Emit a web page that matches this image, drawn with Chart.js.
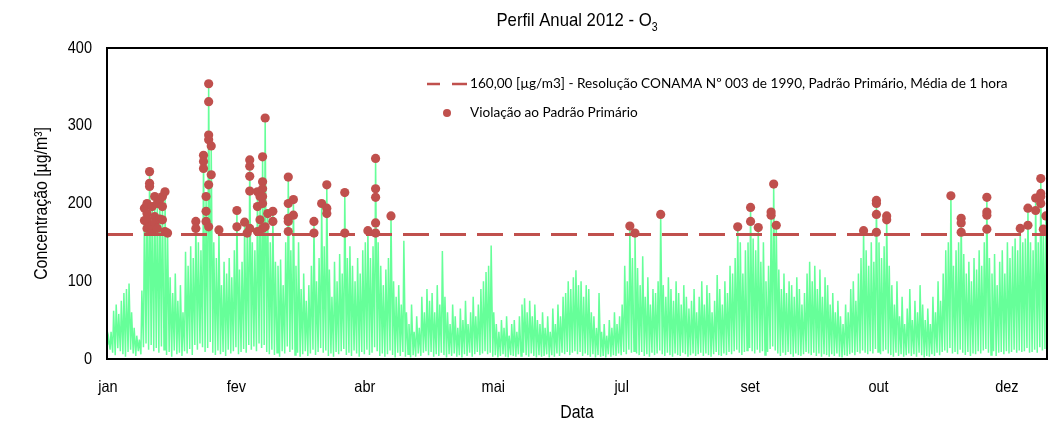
<!DOCTYPE html>
<html><head><meta charset="utf-8">
<script src="https://cdn.jsdelivr.net/npm/chart.js@4.4.0/dist/chart.umd.min.js"></script>
<style>html,body{margin:0;padding:0;background:#fff;}#wrap{width:1060px;height:426px;position:relative;}</style>
</head><body><div id="wrap"><canvas id="c" width="1060" height="426"></canvas></div>
<script>
// Daily maximum hourly O3 (µg/m³), day-of-year 0..365 (2012)
const dailyMax = [
 28,35,62,70,58,75,85,90,97,60,
 40,30,25,88,194,200,241,196,209,200,
 205,209,215,162,105,85,110,75,95,60,
 138,120,145,130,177,150,140,262,209,354,
 274,150,130,166,95,125,110,130,105,140,
 191,115,125,176,162,256,150,140,215,209,
 260,310,187,150,190,125,120,128,95,150,
 235,140,205,120,150,90,110,75,95,120,
 177,100,130,200,145,224,115,80,125,100,
 135,110,214,130,145,120,100,130,110,140,
 150,165,130,145,258,150,120,95,115,130,
 184,100,80,95,70,152,60,45,70,35,
 55,40,80,60,90,75,85,60,95,70,
 139,80,60,45,70,55,40,65,50,75,
 45,60,80,55,70,90,100,112,120,146,
 60,45,35,50,40,55,30,45,50,35,
 55,70,78,60,75,55,70,50,45,60,
 40,55,35,65,45,70,55,80,85,100,
 90,105,114,95,100,80,95,90,60,55,
 40,85,35,45,30,50,40,60,45,55,
 70,120,100,171,130,162,117,95,132,80,
 105,70,90,85,100,186,95,80,105,90,
 75,100,85,70,95,80,65,75,90,60,
 80,100,70,95,85,60,75,108,90,70,
 100,85,120,110,130,170,150,110,140,150,
 195,155,140,169,125,150,100,120,189,225,
 172,115,90,110,85,100,95,80,105,90,
 70,85,110,125,100,120,90,115,80,105,
 95,70,85,60,75,55,45,70,60,90,
 100,75,110,130,165,140,120,150,125,204,
 150,130,145,184,120,95,70,100,55,80,
 45,65,90,50,75,60,95,70,50,65,
 45,80,60,100,75,110,140,150,210,120,
 140,150,181,135,110,125,100,130,115,140,
 120,150,208,130,110,135,95,125,140,110,
 150,130,145,155,140,168,150,155,194,150,
 140,207,150,232,167,184
];
// Daily minimum hourly O3 (µg/m³)
const dailyMin = [
 18,12,8,5,14,10,6,3,9,12,
 7,4,10,6,15,20,12,18,10,14,
 8,16,12,5,9,3,11,6,8,4,
 10,7,13,5,18,12,20,15,9,14,
 22,8,5,11,6,9,4,12,7,10,
 15,6,9,13,8,18,12,16,10,20,
 14,18,9,6,12,5,8,3,10,7,
 16,9,12,5,8,3,6,10,4,7,
 12,5,9,14,8,11,4,7,3,9,
 6,10,13,5,8,4,11,7,3,9,
 6,12,5,8,15,10,4,7,3,6,
 11,5,2,8,4,9,3,6,2,5,
 3,7,4,8,10,5,9,3,6,4,
 8,5,2,6,4,7,3,5,2,6,
 4,8,3,6,9,5,7,10,6,8,
 3,5,2,4,6,3,2,5,4,3,
 6,4,8,5,3,7,4,2,5,3,
 4,6,2,5,3,7,4,8,6,9,
 5,8,10,6,9,4,7,5,3,6,
 2,5,3,4,2,6,3,5,4,7,
 5,9,6,12,8,10,7,5,9,4,
 6,3,8,5,7,11,6,4,8,5,
 3,7,5,4,8,6,3,5,7,4,
 6,8,4,7,5,3,6,9,5,4,
 7,5,9,6,10,12,8,5,9,11,
 14,10,7,12,8,10,5,9,13,16,
 11,7,4,8,5,9,6,3,7,5,
 4,6,9,7,5,8,4,7,3,6,
 5,3,6,4,7,3,2,5,4,6,
 8,5,9,7,11,8,6,10,7,13,
 9,6,10,12,7,5,3,8,4,6,
 3,5,7,4,6,3,8,5,2,4,
 3,6,4,8,5,9,11,8,14,7,
 9,6,12,8,5,9,4,7,6,10,
 7,11,13,8,5,10,4,8,9,6,
 10,7,9,12,8,11,9,10,14,8,
 9,12,8,15,11,13
];
// Hourly values above the primary standard: day-of-year and concentration
const violDays = [
 14,14,15,15,15,15,16,16,16,16,17,17,17,18,18,18,19,19,20,20,21,21,21,22,22,23,
 34,34,37,37,37,38,38,38,39,39,39,39,39,39,40,40,43,
 50,50,53,54,55,55,55,55,55,
 58,58,58,59,59,60,60,60,60,60,60,61,61,62,64,64,
 70,70,70,70,70,72,72,80,80,83,85,85,85,92,92,101,104,104,104,104,104,110,
 203,205,215,245,250,250,253,258,258,259,260,
 294,299,299,299,299,303,303,
 328,332,332,332,342,342,342,342,355,358,358,361,361,363,363,363,363,364,365
];
const violValues = [
 194,178,200,187,179,168,241,226,222,170,196,164,172,209,183,175,200,168,205,180,209,196,179,215,164,162,
 177,168,262,254,245,209,190,177,354,331,288,282,224,170,274,237,166,
 191,170,176,162,256,248,235,216,168,
 215,196,164,209,179,260,228,219,209,200,168,310,170,187,190,177,
 234,200,181,177,164,205,185,177,162,200,224,194,187,214,162,165,258,219,208,175,162,184,
 171,162,186,170,195,177,169,189,185,225,172,
 165,204,200,186,163,184,179,
 210,181,175,163,208,189,185,167,168,194,172,207,191,232,213,209,200,167,184
];
const limitValue = 160;
const tickDays = [0,50,100,150,200,250,300,350];
const tickLabels = ['jan','fev','abr','mai','jul','set','out','dez'];
const yTickValues = [0,100,200,300,400];
const titleMain = 'Perfil Anual 2012 - O';
const titleSub = '3';
const legendLimit = '160,00 [µg/m3] - Resolução CONAMA Nº 003 de 1990, Padrão Primário, Média de 1 hora';
const legendViol = 'Violação ao Padrão Primário';
const xTitle = 'Data';
const yTitle = 'Concentração [µg/m³]';

const PEAK_FRAC = 0.58, LOW_FRAC = 0.2;
const RED = '#C0504D', GREEN = '#66FF99';
const SANS = "'Liberation Sans', Arial, sans-serif";
const LEGFONT = "Lato, 'Open Sans', sans-serif";
const NARROW_X = 0.88;

const series = [];
dailyMax.forEach((v, i) => {
  series.push({x: i + LOW_FRAC, y: dailyMin[i]});
  series.push({x: i + PEAK_FRAC, y: v});
});
const viol = violDays.map((d, i) => ({x: d + PEAK_FRAC, y: violValues[i]}));
const limitLine = [{x: 0, y: limitValue}, {x: 366, y: limitValue}];

// narrow (condensed) text helper
function narrowText(ctx, text, x, y, size, align, baseline, rot) {
  ctx.save();
  ctx.translate(x, y);
  if (rot) ctx.rotate(rot);
  ctx.scale(NARROW_X, 1);
  ctx.font = size + 'px ' + SANS;
  ctx.textAlign = align; ctx.textBaseline = baseline;
  ctx.fillStyle = '#000';
  ctx.fillText(text, 0, 0);
  ctx.restore();
}

const decor = {
  id: 'decor',
  afterDatasetsDraw(chart) {
    const {ctx, chartArea: a, scales} = chart;
    ctx.save();
    ctx.strokeStyle = '#000';
    ctx.lineWidth = 2;
    ctx.strokeRect(a.left, a.top, a.right - a.left, a.bottom - a.top);
    // legend
    ctx.strokeStyle = RED; ctx.lineWidth = 2.5;
    ctx.beginPath(); ctx.moveTo(427, 84); ctx.lineTo(440, 84); ctx.moveTo(452, 84); ctx.lineTo(467, 84); ctx.stroke();
    ctx.fillStyle = RED;
    ctx.beginPath(); ctx.arc(447, 113, 4, 0, Math.PI * 2); ctx.fill();
    ctx.fillStyle = '#000';
    ctx.font = "13.6px " + LEGFONT;
    ctx.textBaseline = 'middle'; ctx.textAlign = 'left';
    ctx.fillText(legendLimit, 470, 84);
    ctx.fillText(legendViol, 470, 113);
    ctx.restore();
    // tick labels from the library's scales
    const xs = scales.x, ys = scales.y;
    xs.ticks.forEach(t => narrowText(ctx, tickLabels[tickDays.indexOf(t.value)], xs.getPixelForValue(t.value) + 1, 387, 16.5, 'center', 'middle'));
    ys.ticks.forEach(t => narrowText(ctx, String(t.value), 92, ys.getPixelForValue(t.value), 16.5, 'right', 'middle'));
    // axis titles
    narrowText(ctx, xTitle, (a.left + a.right) / 2, 413, 18, 'center', 'middle');
    narrowText(ctx, yTitle, 42, (a.top + a.bottom) / 2, 18, 'center', 'middle', -Math.PI / 2);
    // chart title with subscript
    ctx.save();
    ctx.font = '19px ' + SANS;
    const w1 = ctx.measureText(titleMain).width * NARROW_X;
    ctx.font = '12px ' + SANS;
    const w2 = ctx.measureText(titleSub).width * NARROW_X;
    ctx.restore();
    const x0 = (a.left + a.right) / 2 - (w1 + w2) / 2;
    narrowText(ctx, titleMain, x0, 26, 19, 'left', 'alphabetic');
    narrowText(ctx, titleSub, x0 + w1, 31, 12, 'left', 'alphabetic');
  }
};

new Chart(document.getElementById('c'), {
  type: 'line',
  data: {
    datasets: [
      {label: 'Violação', data: viol, showLine: false, pointRadius: 4.6, pointBackgroundColor: RED, pointBorderColor: RED, pointBorderWidth: 0, order: 0},
      {label: 'Limite', data: limitLine, borderColor: RED, borderWidth: 3, borderDash: [26, 11], pointRadius: 0, fill: false, order: 1},
      {label: 'O3', data: series, borderColor: GREEN, borderWidth: 1.5, pointRadius: 0, fill: false, tension: 0, order: 2}
    ]
  },
  options: {
    responsive: false, devicePixelRatio: 1, animation: false,
    layout: {padding: {top: 48, right: 13, left: 0, bottom: 0}},
    plugins: {legend: {display: false}, tooltip: {enabled: false}, title: {display: false}},
    scales: {
      x: {
        type: 'linear', min: 0, max: 366,
        afterBuildTicks: s => { s.ticks = tickDays.map(v => ({value: v})); },
        afterFit: s => { s.height = 67; },
        grid: {display: false, drawTicks: false}, border: {display: false},
        ticks: {display: false}
      },
      y: {
        min: 0, max: 400,
        afterBuildTicks: s => { s.ticks = yTickValues.map(v => ({value: v})); },
        afterFit: s => { s.width = 107; },
        grid: {display: false, drawTicks: false}, border: {display: false},
        ticks: {display: false}
      }
    }
  },
  plugins: [decor]
});
</script></body></html>
